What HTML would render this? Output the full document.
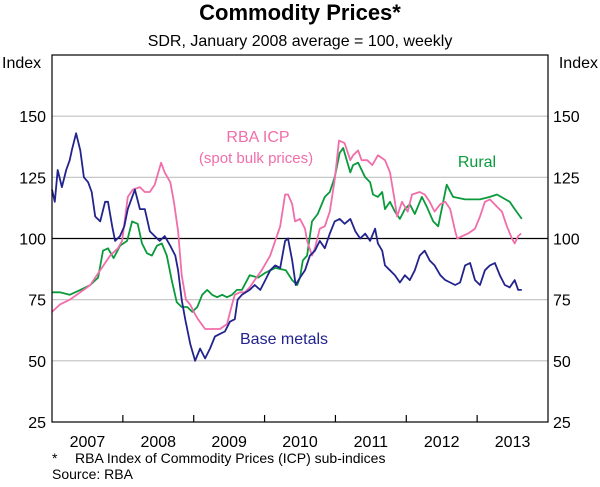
<!DOCTYPE html>
<html><head><meta charset="utf-8"><style>
body{margin:0;background:#fff;width:600px;height:482px;overflow:hidden}
svg text{font-family:"Liberation Sans",Arial,sans-serif}
</style></head><body>
<svg id="chart" width="600" height="482" viewBox="0 0 600 482" xmlns="http://www.w3.org/2000/svg">
<text x="300" y="20" text-anchor="middle" font-size="22" font-weight="bold">Commodity Prices*</text>
<text x="300" y="46" text-anchor="middle" font-size="16">SDR, January 2008 average = 100, weekly</text>
<text x="2" y="68" font-size="16">Index</text>
<text x="598" y="68" text-anchor="end" font-size="16">Index</text>
<g id="grid"></g>
<g id="series"></g>
<rect x="52" y="55" width="496" height="367" fill="none" stroke="#000" stroke-width="1.2"/>
<g id="axes"></g>
<text x="258" y="142" text-anchor="middle" font-size="16" fill="#f06eaa">RBA ICP</text>
<text x="256" y="163" text-anchor="middle" font-size="15" fill="#f06eaa">(spot bulk prices)</text>
<text x="477" y="167" text-anchor="middle" font-size="16" fill="#0a9a3c">Rural</text>
<text x="240" y="344" font-size="16" fill="#23238e">Base metals</text>
<text x="52" y="463" font-size="14">*</text>
<text x="75" y="463" font-size="14">RBA Index of Commodity Prices (ICP) sub-indices</text>
<text x="52" y="479" font-size="14">Source: RBA</text>
</svg>
<script>
const yTicks=[25,50,75,100,125,150];
const yearLabels=["2007","2008","2009","2010","2011","2012","2013"];
const baseT=[0,.04,.08,.14,.20,.25,.28,.34,.40,.45,.51,.56,.61,.68,.75,.79,.85,.89,.96,1.02,1.07,1.17,1.24,1.31,1.38,1.45,1.52,1.59,1.67,1.74,1.78,1.83,1.88,1.95,2.02,2.09,2.16,2.23,2.30,2.37,2.44,2.51,2.58,2.62,2.68,2.79,2.86,2.94,3.01,3.08,3.15,3.22,3.29,3.33,3.39,3.44,3.50,3.57,3.64,3.71,3.78,3.85,3.92,3.99,4.06,4.13,4.21,4.28,4.35,4.42,4.49,4.56,4.60,4.66,4.70,4.77,4.84,4.91,4.98,5.05,5.12,5.19,5.26,5.33,5.40,5.48,5.55,5.62,5.69,5.76,5.83,5.90,5.97,6.04,6.11,6.18,6.25,6.32,6.39,6.46,6.53,6.58,6.63];
const baseV=[120,115,128,121,128,132,136,143,136,125,123,119,109,107,115,115,105,99,101,105,112,120,112,112,103,101,99,101,97,93,87,75,67,57,50,55,51,55,60,61,62,66,67,75,77,79,81,79,83,87,89,88,99,100,91,81,84,87,93,95,99,96,102,107,108,106,108,103,100,102,99,104,98,95,89,87,85,82,85,83,87,93,95,91,89,85,83,82,81,82,89,90,83,81,87,89,90,85,81,80,83,79,79];
const ruralT=[0,.11,.25,.40,.54,.65,.72,.79,.87,.96,1.06,1.13,1.21,1.27,1.34,1.41,1.48,1.55,1.62,1.69,1.76,1.83,1.91,1.98,2.05,2.12,2.19,2.26,2.33,2.40,2.47,2.54,2.61,2.68,2.79,2.91,3.01,3.15,3.30,3.39,3.46,3.50,3.54,3.60,3.67,3.75,3.85,3.92,3.99,4.06,4.11,4.13,4.21,4.25,4.32,4.42,4.49,4.53,4.60,4.66,4.70,4.77,4.84,4.91,4.98,5.05,5.12,5.22,5.29,5.38,5.45,5.57,5.66,5.83,6.04,6.18,6.28,6.46,6.53,6.63];
const ruralV=[78,78,77,79,81,84,95,96,92,97,99,107,106,98,94,93,97,98,93,83,74,72,72,70,72,77,79,77,76,77,76,77,79,79,85,84,86,88,87,83,81,84,91,93,107,110,117,119,125,135,137,135,127,130,131,125,123,118,117,119,112,115,111,108,112,114,110,117,113,107,105,122,117,116,116,117,118,115,112,108];
const icpT=[0,.11,.25,.40,.54,.68,.82,.93,.99,1.07,1.14,1.24,1.31,1.38,1.45,1.50,1.54,1.59,1.67,1.72,1.78,1.83,1.89,1.95,2.02,2.06,2.16,2.26,2.37,2.47,2.54,2.58,2.65,2.72,2.79,2.86,2.96,3.08,3.15,3.22,3.29,3.33,3.39,3.43,3.50,3.57,3.60,3.67,3.71,3.78,3.85,3.92,3.99,4.05,4.13,4.21,4.25,4.32,4.37,4.45,4.52,4.60,4.70,4.77,4.84,4.87,4.94,5.02,5.08,5.19,5.26,5.33,5.40,5.48,5.55,5.62,5.69,5.72,5.79,5.87,5.97,6.04,6.11,6.18,6.28,6.35,6.42,6.49,6.53,6.58,6.62];
const icpV=[70,73,75,78,81,87,93,96,99,117,120,121,119,119,122,127,131,127,123,115,103,85,75,73,69,67,63,63,63,65,73,77,78,78,80,83,87,93,99,105,118,118,114,107,108,104,99,93,96,104,105,111,124,140,139,132,134,136,132,132,130,134,132,127,115,109,115,111,118,119,118,115,111,114,115,112,103,100,101,102,104,109,115,116,113,111,105,100,98,101,102];
const NS="http://www.w3.org/2000/svg";
const L=52,R=548,T=55,B=422;
const x=t=>L+t*(R-L)/7;
const y=v=>B-(v-25)*(B-T)/150;
function mk(tag,attrs,parent){const e=document.createElementNS(NS,tag);for(const k in attrs)e.setAttribute(k,attrs[k]);parent.appendChild(e);return e;}
const grid=document.getElementById('grid'),axes=document.getElementById('axes'),ser=document.getElementById('series');
yTicks.forEach(v=>{
  if(v>25){const g=mk('line',{x1:L,x2:R,y1:y(v),y2:y(v),stroke:v===100?'#000':'#c0c0c0','stroke-width':1.2},grid);
  
  }
  const a=mk('text',{x:L-6,y:y(v)+6,'text-anchor':'end','font-size':16},axes);a.textContent=v;
  
  
  const b=mk('text',{x:R+5,y:y(v)+6,'font-size':16},axes);b.textContent=v;
  
  
});
yearLabels.forEach((lab,i)=>{
  if(i>0){const tk=mk('line',{x1:x(i),x2:x(i),y1:B,y2:B-7,stroke:'#000','stroke-width':1.2},axes);
  
  }
  const t=mk('text',{x:x(i+0.5),y:447,'text-anchor':'middle','font-size':16},axes);t.textContent=lab;
  
  
});
function line(ts,vs,col,name){
  const d=ts.map((t,i)=>(i?'L':'M')+x(t).toFixed(1)+','+y(vs[i]).toFixed(1)).join('');
  const p=mk('path',{d:d,fill:'none',stroke:col,'stroke-width':1.8,'stroke-linejoin':'round'},ser);
  
  
}
line(ruralT,ruralV,'#0a9a3c','rural-line');
line(icpT,icpV,'#f06eaa','rba-icp-line');
line(baseT,baseV,'#23238e','base-metals-line');
</script>
</body></html>
